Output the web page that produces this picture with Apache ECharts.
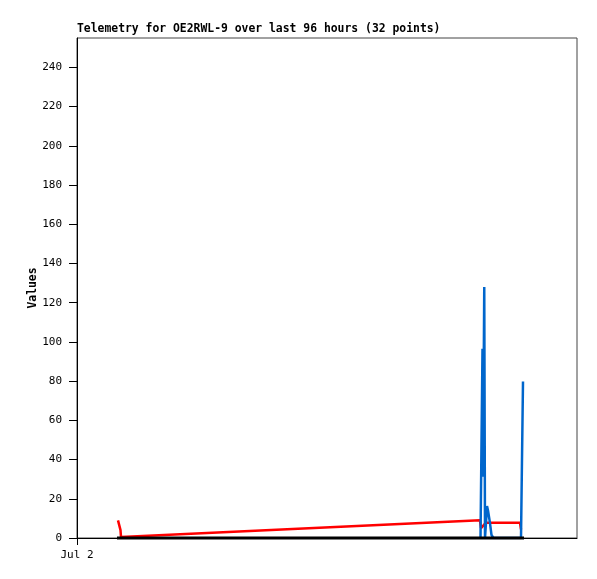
<!DOCTYPE html>
<html>
<head>
<meta charset="utf-8">
<script src="https://cdn.jsdelivr.net/npm/echarts@6/dist/echarts.min.js"></script>
<style>
html, body { margin: 0; padding: 0; background: #fff; }
#chart { width: 597px; height: 579px; }
</style>
</head>
<body>
<div id="chart"></div>
<script>
// x is hours from the left edge of the plot (Jul 2)
const xTickValues = [0];
const xTickLabels = ['Jul 2'];

const redSeries = [
    [8.2, 9], [8.5, 8], [8.7, 4], [8.8, 0.5], [9.0, 0], [11.0, 0.8],
    [80.6, 9.0], [80.8, 5], [81.0, 5], [81.8, 7.8], [88.6, 7.8],
    [88.7, 8.7], [88.8, 4.4]
];

const blueSeries = [
    [80.7, 0], [80.9, 48.5], [81.1, 96.5], [81.2, 31.3], [81.45, 128],
    [81.6, 0], [81.9, 11.7], [82.0, 16.3], [82.2, 14], [82.6, 7.6],
    [82.9, 1.5], [83.3, 0], [88.8, 0], [89.0, 40.3], [89.2, 79.8], [89.3, 79.8]
];

const blackSeries = [
    [8.0, 0], [89.4, 0]
];

const chart = echarts.init(document.getElementById('chart'));

const mono = 'DejaVu Sans Mono';

const option = {
    animation: false,
    backgroundColor: '#fff',
    title: {
        text: 'Telemetry for OE2RWL-9 over last 96 hours (32 points)',
        left: 77,
        top: 24,
        padding: 0,
        textStyle: {
            fontFamily: mono,
            fontSize: 11.4,
            fontWeight: 'bold',
            color: '#000'
        }
    },
    grid: {
        left: 77,
        right: 20,
        top: 38,
        bottom: 41,
        show: true,
        borderColor: '#444',
        borderWidth: 1
    },
    xAxis: {
        type: 'value',
        min: 0,
        max: 100,
        splitLine: { show: false },
        axisLine: { lineStyle: { color: '#000', width: 1 } },
        axisTick: {
            show: true,
            length: 7,
            customValues: xTickValues,
            lineStyle: { color: '#000' }
        },
        axisLabel: {
            customValues: xTickValues,
            formatter: function (v) {
                const i = xTickValues.indexOf(v);
                return i >= 0 ? xTickLabels[i] : '';
            },
            margin: 12,
            fontFamily: mono,
            fontSize: 11,
            color: '#000'
        }
    },
    yAxis: {
        type: 'value',
        min: 0,
        max: 255,
        interval: 20,
        name: 'Values',
        nameLocation: 'middle',
        nameGap: 38,
        nameMoveOverlap: false,
        nameTextStyle: {
            fontFamily: mono,
            fontSize: 11.4,
            fontWeight: 'bold',
            color: '#000'
        },
        splitLine: { show: false },
        axisLine: { show: true, lineStyle: { color: '#000', width: 1 } },
        axisTick: { show: true, length: 8, lineStyle: { color: '#000' } },
        axisLabel: {
            showMaxLabel: false,
            margin: 15,
            fontFamily: mono,
            fontSize: 11,
            color: '#000'
        }
    },
    series: [
        {
            type: 'line',
            data: redSeries,
            showSymbol: false,
            lineStyle: { color: '#ff0000', width: 2.5 },
            itemStyle: { color: '#ff0000' }
        },
        {
            type: 'line',
            data: blueSeries,
            showSymbol: false,
            lineStyle: { color: '#0066cc', width: 2.5 },
            itemStyle: { color: '#0066cc' }
        },
        {
            type: 'line',
            data: blackSeries,
            showSymbol: false,
            clip: false,
            lineStyle: { color: '#000', width: 3 },
            itemStyle: { color: '#000' }
        }
    ]
};

chart.setOption(option);
</script>
</body>
</html>
